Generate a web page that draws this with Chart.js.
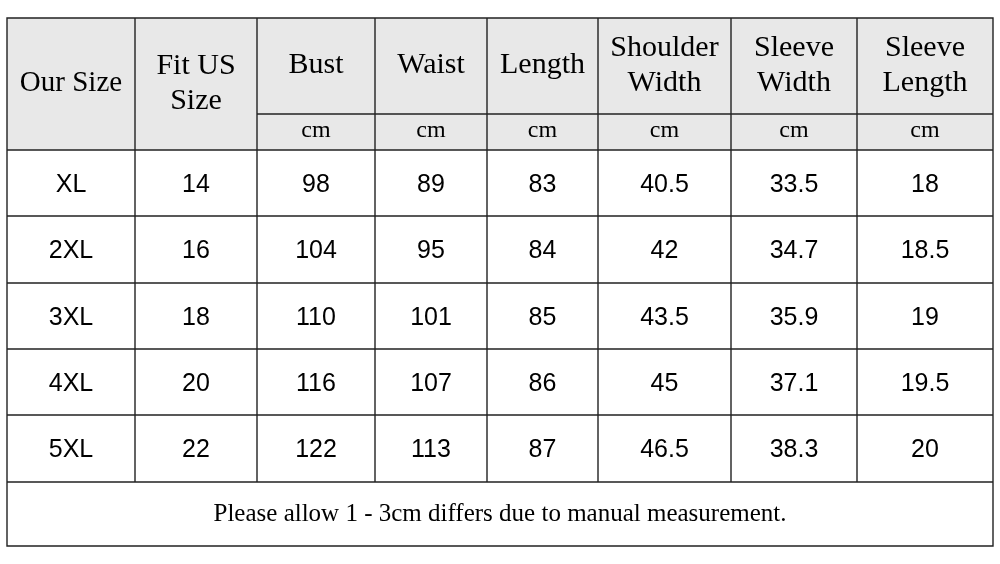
<!DOCTYPE html>
<html>
<head>
<meta charset="utf-8">
<script src="https://cdn.jsdelivr.net/npm/chart.js@4"></script>
<style>
  html, body { margin: 0; padding: 0; background: #fff; }
  #wrap { width: 1000px; height: 564px; }
</style>
</head>
<body>
<div id="wrap"><canvas id="sizeChart"></canvas></div>
<script>
// table data
const headers = [['Our Size'], ['Fit US', 'Size'], ['Bust'], ['Waist'], ['Length'],
    ['Shoulder', 'Width'], ['Sleeve', 'Width'], ['Sleeve', 'Length']];
const units = ['', '', 'cm', 'cm', 'cm', 'cm', 'cm', 'cm'];
const sizes = ['XL', '2XL', '3XL', '4XL', '5XL'];
const usSizes = ['14', '16', '18', '20', '22'];
const bust = ['98', '104', '110', '116', '122'];
const waist = ['89', '95', '101', '107', '113'];
const length = ['83', '84', '85', '86', '87'];
const shoulder = ['40.5', '42', '43.5', '45', '46.5'];
const sleeveWidth = ['33.5', '34.7', '35.9', '37.1', '38.3'];
const sleeveLength = ['18', '18.5', '19', '19.5', '20'];
const note = 'Please allow 1 - 3cm differs due to manual measurement.';

const columns = [sizes, usSizes, bust, waist, length, shoulder, sleeveWidth, sleeveLength];

// grid layout (in scale units)
const colEdges = [7, 135, 257, 375, 487, 598, 731, 857, 993];
const headTop = 18, unitTop = 114, bodyTop = 150;
const rowEdges = [150, 216, 283, 349, 415, 482];
const bottom = 546;

const serif = '"Liberation Serif", "DejaVu Serif", serif';
const sans = '"Liberation Sans", Lato, sans-serif';

const tablePlugin = {
    id: 'tablePlugin',
    afterDraw(chart) {
        const ctx = chart.ctx;
        const xs = chart.scales.x, ys = chart.scales.y;
        const X = v => xs.getPixelForValue(v);
        const Y = v => ys.getPixelForValue(v);
        ctx.save();

        // header background
        ctx.fillStyle = '#e8e8e8';
        ctx.fillRect(X(colEdges[0]), Y(headTop), X(colEdges[8]) - X(colEdges[0]), Y(bodyTop) - Y(headTop));

        // grid lines
        ctx.strokeStyle = '#222';
        ctx.lineWidth = 1.4;
        ctx.beginPath();
        ctx.rect(X(colEdges[0]), Y(headTop), X(colEdges[8]) - X(colEdges[0]), Y(bottom) - Y(headTop));
        colEdges.slice(1, -1).forEach(c => {
            ctx.moveTo(X(c), Y(headTop));
            ctx.lineTo(X(c), Y(rowEdges[rowEdges.length - 1]));
        });
        ctx.moveTo(X(colEdges[2]), Y(unitTop));
        ctx.lineTo(X(colEdges[8]), Y(unitTop));
        rowEdges.forEach(r => {
            ctx.moveTo(X(colEdges[0]), Y(r));
            ctx.lineTo(X(colEdges[8]), Y(r));
        });
        ctx.stroke();

        ctx.fillStyle = '#000';
        ctx.textAlign = 'center';
        ctx.textBaseline = 'middle';

        // header text
        headers.forEach((lines, i) => {
            const cx = X((colEdges[i] + colEdges[i + 1]) / 2);
            const bot = i < 2 ? bodyTop : unitTop;
            const cy = Y((headTop + bot) / 2) + (lines.length > 1 ? 0 : -1);
            ctx.font = (i === 0 ? '29px ' : '30px ') + serif;
            const lh = 35;
            lines.forEach((t, k) => {
                ctx.fillText(t, cx, cy + (k - (lines.length - 1) / 2) * lh);
            });
            if (units[i]) {
                ctx.font = '24px ' + serif;
                ctx.fillText(units[i], cx, Y((unitTop + bodyTop) / 2) - 1);
            }
        });

        // body text
        ctx.font = '25px ' + sans;
        columns.forEach((col, i) => {
            const cx = X((colEdges[i] + colEdges[i + 1]) / 2);
            col.forEach((v, r) => {
                ctx.fillText(v, cx, Y((rowEdges[r] + rowEdges[r + 1]) / 2) + 2);
            });
        });

        // footer note
        ctx.font = '25px ' + serif;
        ctx.fillText(note, X((colEdges[0] + colEdges[8]) / 2), Y((rowEdges[5] + bottom) / 2));
        ctx.restore();
    }
};

document.addEventListener('DOMContentLoaded', () => {
    new Chart(document.getElementById('sizeChart'), {
        type: 'scatter',
        data: { datasets: [{ data: [] }] },
        options: {
            responsive: true,
            maintainAspectRatio: false,
            animation: false,
            layout: { padding: 0 },
            plugins: { legend: { display: false }, tooltip: { enabled: false } },
            scales: {
                x: { type: 'linear', min: 0, max: 1000, display: false },
                y: { type: 'linear', min: 0, max: 564, reverse: true, display: false }
            }
        },
        plugins: [tablePlugin]
    });
});
</script>
</body>
</html>
